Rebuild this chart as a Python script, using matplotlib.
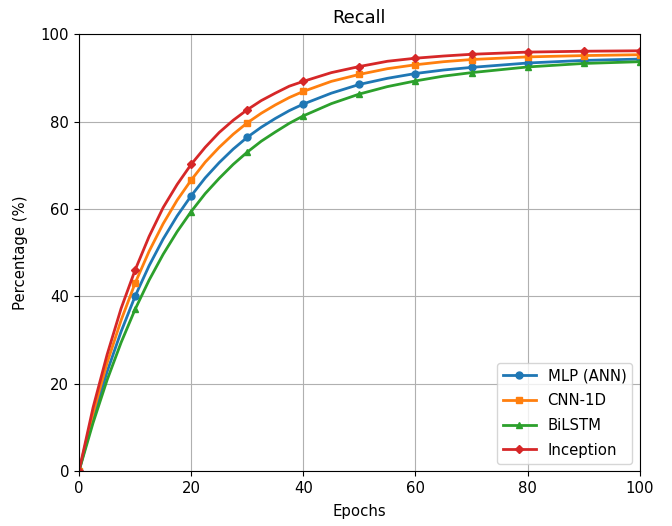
import matplotlib
matplotlib.use("Agg")
import matplotlib.pyplot as plt

plt.rcParams["font.size"] = 10.7

epochs = [0, 2.5, 5, 7.5, 10, 12.5, 15, 17.5, 20, 22.5, 25, 27.5, 30, 32.5, 35, 37.5,
          40, 45, 50, 55, 60, 65, 70, 80, 90, 100]
marker_epochs = [0, 10, 20, 30, 40, 50, 60, 70, 80, 90, 100]

mlp = [0, 12.1, 22.7, 31.9, 40.0, 47.0, 53.1, 58.4, 63.0, 67.1, 70.6, 73.7, 76.4, 78.7, 80.7, 82.5,
       84.0, 86.5, 88.5, 89.9, 91.0, 91.8, 92.4, 93.4, 94.0, 94.3]
cnn = [0, 13.2, 24.7, 34.5, 43.0, 50.3, 56.6, 62.0, 66.6, 70.7, 74.1, 77.1, 79.7, 81.9, 83.8, 85.5,
       86.9, 89.2, 90.8, 92.1, 93.0, 93.7, 94.2, 94.8, 95.1, 95.3]
bilstm = [0, 11.0, 20.8, 29.4, 37.0, 43.7, 49.6, 54.8, 59.4, 63.5, 67.0, 70.2, 73.0, 75.5, 77.6, 79.6,
          81.3, 84.1, 86.3, 88.0, 89.3, 90.4, 91.2, 92.5, 93.3, 93.7]
inception = [0, 14.5, 26.6, 37.2, 46.0, 53.7, 60.3, 65.6, 70.2, 74.1, 77.5, 80.3, 82.7, 84.8, 86.5, 88.1,
             89.2, 91.2, 92.6, 93.8, 94.5, 95.0, 95.4, 95.9, 96.1, 96.2]

series = [
    ("MLP (ANN)", mlp, "#1f77b4", "o"),
    ("CNN-1D", cnn, "#ff7f0e", "s"),
    ("BiLSTM", bilstm, "#2ca02c", "^"),
    ("Inception", inception, "#d62728", "D"),
]

mark_idx = [epochs.index(e) for e in marker_epochs]

fig = plt.figure(figsize=(6.72, 5.26), dpi=100)
ax = fig.add_axes([0.1176, 0.1046, 0.8344, 0.8304])
for label, vals, color, m in series:
    ax.plot(epochs, vals, color=color, marker=m, markevery=mark_idx,
            markersize=5 if m != "D" else 4.5, linewidth=2, label=label)

ax.set_xlim(0, 100)
ax.set_ylim(0, 100)
ax.set_xticks([0, 20, 40, 60, 80, 100])
ax.set_yticks([0, 20, 40, 60, 80, 100])
ax.grid(True)
ax.set_title("Recall", pad=8)
ax.set_xlabel("Epochs", labelpad=6)
ax.set_ylabel("Percentage (%)", labelpad=9)
ax.legend(loc="lower right", labelspacing=0.65, handlelength=2.2)
fig.savefig("out.png", dpi=100)
